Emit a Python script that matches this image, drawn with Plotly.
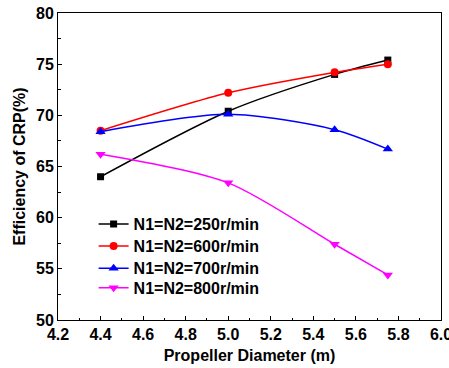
import plotly.graph_objects as go

# Propeller diameter (m)
diameters = [4.4, 5.0, 5.5, 5.75]

# CRP efficiency (%) for each rotational speed
eff_250 = [64.0, 70.4, 74.0, 75.4]
eff_600 = [68.5, 72.2, 74.2, 75.0]
eff_700 = [68.4, 70.1, 68.6, 66.7]
eff_800 = [66.2, 63.4, 57.4, 54.4]

series_names = ["N1=N2=250r/min", "N1=N2=600r/min", "N1=N2=700r/min", "N1=N2=800r/min"]
series_values = [eff_250, eff_600, eff_700, eff_800]

x_ticks = [4.2, 4.4, 4.6, 4.8, 5.0, 5.2, 5.4, 5.6, 5.8, 6.0]
y_ticks = [50, 55, 60, 65, 70, 75, 80]

colors = ["#000000", "#ff0000", "#0000ff", "#ff00ff"]
symbols = ["square", "circle", "triangle-up", "triangle-down"]
marker_sizes = [7, 8, 9, 9]

FONT = "Liberation Sans, Arial, sans-serif"

# one legend box per series so the entries sit close together
legend_ids = ["legend", "legend2", "legend3", "legend4"]
legend_tops = [0.368, 0.296, 0.224, 0.160]

fig = go.Figure()
for name, vals, col, sym, ms, lg in zip(series_names, series_values, colors,
                                         symbols, marker_sizes, legend_ids):
    fig.add_trace(go.Scatter(
        x=diameters, y=vals, name=name, legend=lg, showlegend=True,
        mode="lines+markers",
        line=dict(color=col, width=1.5, shape="spline", smoothing=0.8),
        marker=dict(symbol=sym, size=ms, color=col),
    ))

axis_common = dict(
    showline=True, linecolor="black", linewidth=1, mirror=True,
    ticks="inside", ticklen=4, tickwidth=1, tickcolor="black",
    showgrid=False, zeroline=False, ticklabeloverflow="allow",
    automargin=False,
    tickfont=dict(family=FONT, size=16, color="black", weight="bold"),
)

fig.update_xaxes(
    range=[4.2, 6.0], tickmode="array", tickvals=x_ticks,
    ticktext=[f"{v:.1f}" for v in x_ticks],
    minor=dict(ticks="inside", ticklen=2.5, dtick=0.1, tick0=4.2, tickcolor="black"),
    title=dict(text="Propeller Diameter (m)", standoff=7,
               font=dict(family=FONT, size=16, color="black", weight="bold")),
    **axis_common,
)
fig.update_yaxes(
    range=[50, 80], tickmode="array", tickvals=y_ticks,
    minor=dict(ticks="inside", ticklen=2.5, dtick=2.5, tick0=50, tickcolor="black"),
    title=dict(text="Efficiency of CRP(%)", standoff=6,
               font=dict(family=FONT, size=16, color="black", weight="bold")),
    **axis_common,
)

legend_style = dict(
    x=0.093, xanchor="left", yanchor="top",
    bgcolor="rgba(0,0,0,0)",
    font=dict(family=FONT, size=16, color="black", weight="bold"),
)

fig.update_layout(
    width=449, height=368,
    margin=dict(l=58, r=8, t=13, b=48),
    paper_bgcolor="white", plot_bgcolor="white",
    showlegend=True,
    **{lg: dict(y=top, **legend_style) for lg, top in zip(legend_ids, legend_tops)},
)

fig.write_html("out.html")
